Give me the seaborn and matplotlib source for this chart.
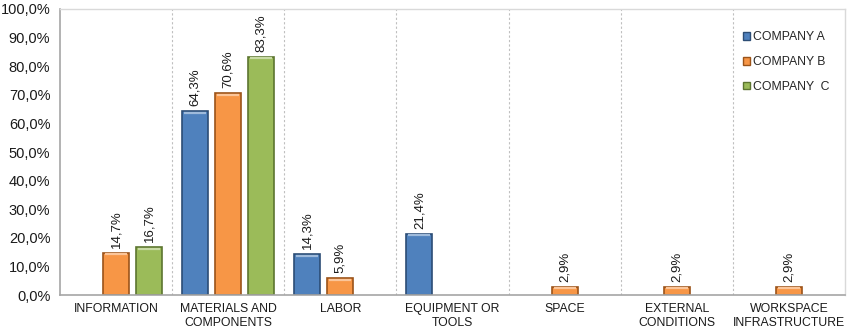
import numpy as np
import pandas as pd
import matplotlib
matplotlib.use("Agg")
import matplotlib.pyplot as plt
import seaborn as sns
from matplotlib.ticker import FuncFormatter, FixedLocator
from matplotlib.colors import to_rgb

sns.set_style("white")
plt.rcParams["font.family"] = ["Liberation Sans", "DejaVu Sans"]

categories = ["INFORMATION", "MATERIALS AND\nCOMPONENTS", "LABOR",
              "EQUIPMENT OR\nTOOLS", "SPACE", "EXTERNAL\nCONDITIONS",
              "WORKSPACE\nINFRASTRUCTURE"]
companies = ["COMPANY A", "COMPANY B", "COMPANY  C"]
company_a = [np.nan, 64.3, 14.3, 21.4, np.nan, np.nan, np.nan]
company_b = [14.7, 70.6, 5.9, np.nan, 2.9, 2.9, 2.9]
company_c = [16.7, 83.3, np.nan, np.nan, np.nan, np.nan, np.nan]
colors = ["#4F81BD", "#F79646", "#9BBB59"]
edges = ["#2C4D75", "#9B5319", "#5C7530"]

rows = []
for comp, vals in zip(companies, [company_a, company_b, company_c]):
    for cat, v in zip(categories, vals):
        rows.append({"category": cat, "company": comp, "value": v})
df = pd.DataFrame(rows)

fig = plt.figure(figsize=(8.5, 3.33), dpi=100)
ax = fig.add_axes([0.0706, 0.114, 0.9234, 0.859])

sns.barplot(data=df.dropna(), x="category", y="value", hue="company",
            order=categories, hue_order=companies, palette=colors,
            width=0.885, gap=0.21, ax=ax, errorbar=None, saturation=1)

# darker edges, a light bevel along each bar top, and value labels
for cont, ec, fc in zip(ax.containers, edges, colors):
    light = tuple(0.55 * c + 0.45 for c in to_rgb(fc))
    for patch in cont.patches:
        patch.set_edgecolor(ec)
        patch.set_linewidth(1.2)
        x0, w, h = patch.get_x(), patch.get_width(), patch.get_height()
        if h > 0:
            ax.plot([x0 + w * 0.08, x0 + w * 0.92], [h - 0.5, h - 0.5],
                    color=light, linewidth=1.6, solid_capstyle="butt", zorder=3)
    labels = [f"{v:.1f}%".replace(".", ",") if not np.isnan(v) and v > 0 else ""
              for v in cont.datavalues]
    ax.bar_label(cont, labels=labels, rotation=90, padding=3.5,
                 fontsize=9.5, color="#1a1a1a")

ax.set_xlim(-0.5, len(categories) - 0.5)
ax.set_ylim(0, 100)
ax.set_yticks(np.arange(0, 101, 10))
ax.yaxis.set_major_formatter(FuncFormatter(lambda v, p: f"{v:.1f}%".replace(".", ",")))
ax.tick_params(axis="y", labelsize=10.5, colors="#1a1a1a", length=0, pad=7)
ax.tick_params(axis="x", labelsize=8.8, colors="#1a1a1a", length=0, pad=6)
ax.set_xlabel("")
ax.set_ylabel("")

# category boundaries: dotted gridlines and small tick marks
bounds = np.arange(0.5, len(categories) - 0.5, 1)
ax.xaxis.set_minor_locator(FixedLocator(np.arange(-0.5, len(categories), 1)))
ax.tick_params(axis="x", which="minor", length=5, color="#a6a6a6", width=1)
for b in bounds:
    ax.axvline(b, color="#bfbfbf", linestyle=(0, (2, 2)), linewidth=0.8, zorder=0)

for side in ["left", "bottom"]:
    ax.spines[side].set_color("#a6a6a6")
    ax.spines[side].set_linewidth(1.2)
for side in ["top", "right"]:
    ax.spines[side].set_color("#d9d9d9")
    ax.spines[side].set_linewidth(1.0)

leg = ax.legend(loc="upper right", bbox_to_anchor=(0.995, 0.96), frameon=False,
                fontsize=8.8, handlelength=0.55, handleheight=0.55,
                handletextpad=0.3, labelspacing=1.05)
for h, ec in zip(leg.legend_handles, edges):
    h.set_edgecolor(ec)

fig.savefig("out.png", dpi=100)
